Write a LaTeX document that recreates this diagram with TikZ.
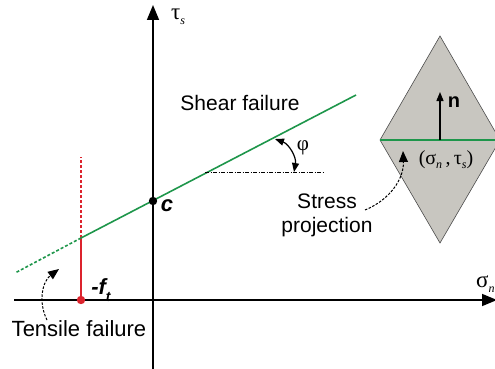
\documentclass[tikz,border=0pt]{standalone}
\usepackage{fontspec}
\setmainfont{Liberation Sans}
\newfontfamily\grk{Liberation Serif}
\usetikzlibrary{arrows.meta,positioning}
\definecolor{shear}{RGB}{30,150,75}
\definecolor{tens}{RGB}{220,35,45}
\definecolor{plane}{RGB}{200,198,192}
\newcommand{\sub}[1]{\raisebox{-0.45ex}{\fontsize{12}{12}\selectfont\grk\itshape #1}}
\tikzset{
  axis/.style={line width=1.6pt, -{Triangle[length=15pt,width=12pt]}},
  lbl/.style={font=\fontsize{21}{25}\selectfont, inner sep=0pt},
  glbl/.style={font=\fontsize{23}{25}\selectfont\grk, inner sep=0pt},
  hint/.style={line width=1pt, dash pattern=on 2.5pt off 1.5pt, -{Triangle[length=11pt,width=9pt]}},
  tip/.style={-{Triangle[length=9pt,width=7pt]}}
}
\begin{document}
\begin{tikzpicture}[x=1pt,y=-1pt]
    \clip (0,0) rectangle (495,369);

    % Points
    \coordinate (c) at (153,201);
    \coordinate (ft) at (81,300);
    \coordinate (cross) at (81,238);

    % Stress plane (rhombus)
    \coordinate (top) at (440,36);
    \coordinate (lft) at (380,140);
    \coordinate (bot) at (440,243);
    \coordinate (rgt) at (500,140);
    \filldraw[fill=plane, draw=black!70, line width=0.6pt] (top) -- (rgt) -- (bot) -- (lft) -- cycle;
    \draw[shear, line width=1.6pt] (lft) -- (rgt);
    \coordinate (nfoot) at (440,140);
    \coordinate (nhead) at (440,92);
    \draw[tip, line width=1.3pt] (nfoot) -- (nhead);
    \node[lbl, font=\fontsize{20}{24}\selectfont\bfseries] (n) at (454,102) {n};
    \node[font=\fontsize{20}{22}\selectfont\grk, inner sep=0pt] (proj) at (446,160) {(σ\sub{n}\,,\,τ\sub{s})};

    % Axes
    \draw[axis] (153,369) -- (153,5);
    \draw[axis] (14,300) -- (497,300);
    \node[glbl] (tau) at (178,17) {τ\sub{s}};
    \node[glbl, anchor=west] (sigma) at (476,284) {σ\sub{n}};

    % Tensile cut-off
    \draw[tens, line width=1.6pt] (ft) -- (cross);
    \draw[tens, line width=1.6pt, dash pattern=on 3pt off 2pt] (cross) -- (81,157);
    \fill[tens] (ft) circle (4.2pt);
    \node[lbl, font=\fontsize{22}{25}\selectfont\bfseries\itshape] (ftl) at (101,290) {-f\raisebox{-0.6ex}{\fontsize{14}{14}\selectfont t}};

    % Shear failure envelope
    \coordinate (env) at (356,95);
    \draw[shear, line width=1.6pt] (cross) -- (env);
    \draw[shear, line width=1.6pt, dash pattern=on 3pt off 2pt] (cross) -- (15,273);
    \fill[black] (c) circle (4.2pt);
    \node[lbl, font=\fontsize{22}{25}\selectfont\bfseries\itshape] (cl) at (167,206) {c};
    \node[lbl] (shearl) at (240,103) {Shear failure};

    % Friction angle
    \coordinate (h1) at (205,172);
    \coordinate (h2) at (323,172);
    \draw[line width=1pt, dash pattern=on 4pt off 1.5pt on 1pt off 1.5pt] (h1) -- (h2);
    \coordinate (a1) at (275,139);
    \coordinate (a2) at (294,172);
    \draw[line width=1.2pt, {Triangle[length=9pt,width=7pt]}-{Triangle[length=9pt,width=7pt]}] (a1) to[bend left=40] (a2);
    \node[glbl, font=\fontsize{21}{25}\selectfont\grk] (phi) at (303,148) {φ};

    % Labels with pointers
    \node[lbl, align=center, font=\fontsize{21}{24}\selectfont] (stress) at (327,215) {Stress\\projection};
    \draw[hint] (365,210) to[bend right=35] (403,151);
    \node[lbl, font=\fontsize{22}{25}\selectfont] (tensl) at (79,329) {Tensile failure};
    \draw[hint] (47,320) to[bend left=40] (59,269);
\end{tikzpicture}
\end{document}
